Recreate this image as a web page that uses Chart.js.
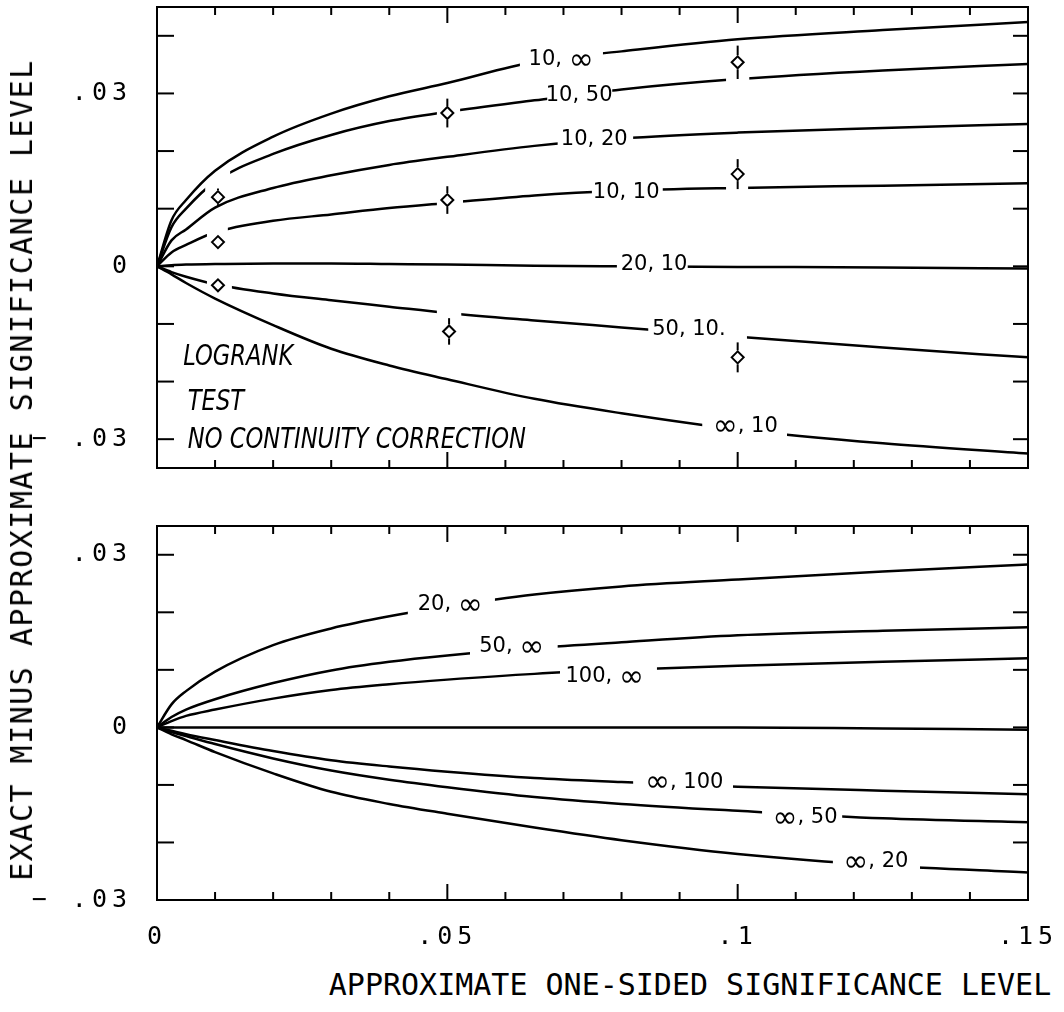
<!DOCTYPE html>
<html>
<head>
<meta charset="utf-8">
<script src="https://cdn.jsdelivr.net/npm/chart.js@4.4.0/dist/chart.umd.min.js"></script>
<style>
  html, body { margin: 0; padding: 0; background: #fff; }
  #wrap { position: relative; width: 1064px; height: 1012px; overflow: hidden; background: #fff; }
  canvas { position: absolute; left: 0; }
  #topChart { top: 0; }
  #bottomChart { top: 480px; }
  .title { position: absolute; font-family: "DejaVu Sans Mono", monospace; font-size: 30px;
           line-height: 1; color: #000; white-space: nowrap; }
  #ytitle { left: 22px; top: 470px; letter-spacing: 1.5px; transform: translate(-50%, -50%) rotate(-90deg); }
  #xtitle { left: 690px; top: 985px; transform: translate(-50%, -50%); }
</style>
</head>
<body>
<div id="wrap">
  <canvas id="topChart" width="1064" height="480"></canvas>
  <canvas id="bottomChart" width="1064" height="480"></canvas>
  <div class="title" id="ytitle">EXACT MINUS APPROXIMATE SIGNIFICANCE LEVEL</div>
  <div class="title" id="xtitle">APPROXIMATE ONE-SIDED SIGNIFICANCE LEVEL</div>
</div>
<script>
// approximate one-sided significance level (shared x grid)
const xs = [0, 0.0025, 0.005, 0.01, 0.02, 0.03, 0.04, 0.05, 0.065, 0.08, 0.1, 0.125, 0.15];

// upper panel: logrank, no continuity correction (n1, n2)
const up10Inf = [0, 0.0080, 0.0115, 0.0166, 0.0225, 0.0265, 0.0295, 0.0318, 0.0355, 0.0373, 0.0394, 0.0410, 0.0424];
const up10_50 = [0, 0.0068, 0.0100, 0.0147, 0.0195, 0.0228, 0.0252, 0.0268, 0.0288, 0.0307, 0.0325, 0.0340, 0.0351];
const up10_20 = [0, 0.0045, 0.0064, 0.0102, 0.0136, 0.0158, 0.0176, 0.0190, 0.0209, 0.0222, 0.0232, 0.0240, 0.0247];
const up10_10 = [0, 0.0024, 0.0037, 0.0059, 0.0079, 0.0090, 0.0101, 0.0110, 0.0123, 0.0131, 0.0136, 0.0140, 0.0144];
const up20_10 = [0, 0.0002, 0.0003, 0.0004, 0.0005, 0.0005, 0.0004, 0.0003, 0.0001, 0.0000, -0.0001, -0.0002, -0.0004];
const up50_10 = [0, -0.0010, -0.0018, -0.0031, -0.0047, -0.0059, -0.0070, -0.0081, -0.0094, -0.0106, -0.0122, -0.0141, -0.0158];
const upInf10 = [0, -0.0014, -0.0029, -0.0056, -0.0102, -0.0143, -0.0172, -0.0196, -0.0230, -0.0255, -0.0283, -0.0307, -0.0325];

// upper panel: exact values with bars
const markX = [0.0105, 0.0105, 0.0105, 0.05, 0.05, 0.0503, 0.1, 0.1, 0.1];
const markY = [0.0120, 0.0042, -0.0033, 0.0266, 0.0115, -0.0113, 0.0354, 0.0160, -0.0158];
const markErr = [0.0015, 0.0011, 0.0010, 0.0025, 0.0024, 0.0023, 0.0029, 0.0026, 0.0026];

// lower panel
const lo20Inf = [0, 0.0040, 0.0063, 0.0097, 0.0143, 0.0172, 0.0193, 0.0210, 0.0231, 0.0245, 0.0257, 0.0271, 0.0283];
const lo50Inf = [0, 0.0018, 0.0031, 0.0049, 0.0077, 0.0099, 0.0114, 0.0125, 0.0138, 0.0148, 0.0160, 0.0168, 0.0174];
const lo100Inf = [0, 0.0011, 0.0020, 0.0031, 0.0050, 0.0065, 0.0075, 0.0083, 0.0093, 0.0100, 0.0107, 0.0114, 0.0120];
const loInfInf = [0, 0, 0, 0, 0, 0, 0, 0, 0, 0, 0, -0.0002, -0.0004];
const loInf100 = [0, -0.0006, -0.0012, -0.0022, -0.0041, -0.0057, -0.0068, -0.0077, -0.0088, -0.0095, -0.0103, -0.0110, -0.0116];
const loInf50 = [0, -0.0008, -0.0015, -0.0029, -0.0054, -0.0075, -0.0091, -0.0104, -0.0121, -0.0133, -0.0145, -0.0158, -0.0165];
const loInf20 = [0, -0.0012, -0.0022, -0.0043, -0.0080, -0.0112, -0.0133, -0.0150, -0.0174, -0.0196, -0.0220, -0.0240, -0.0252];

// axis ticks
const xTicks = [0, 0.01, 0.02, 0.03, 0.04, 0.05, 0.06, 0.07, 0.08, 0.09, 0.1, 0.11, 0.12, 0.13, 0.14, 0.15];
const xTickText = { 0: '0', 5: '.05', 10: '.1', 15: '.15' };
const upYTicks = [-0.03, -0.02, -0.01, 0, 0.01, 0.02, 0.03, 0.04];
const loYTicks = [-0.03, -0.02, -0.01, 0, 0.01, 0.02, 0.03];
const yTickText = { '-3': '\u2212 .03', '0': '0', '3': '.03' };

// curve labels
const upLabels = ['10, ∞', '10, 50', '10, 20', '10, 10', '20, 10', '50, 10.', '∞, 10'];
const upLabelX = [0.0696, 0.0727, 0.0753, 0.0808, 0.0856, 0.0916, 0.1013];
const upLabelY = [0.0358, 0.0297, 0.0220, 0.0128, 0.0003, -0.0109, -0.0278];
const loLabels = ['20, ∞', '50, ∞', '100, ∞', '', '∞, 100', '∞, 50', '∞, 20'];
const loLabelX = [0.0505, 0.0611, 0.0771, 0, 0.0908, 0.1116, 0.1238];
const loLabelY = [0.0213, 0.0140, 0.0088, 0, -0.0096, -0.0157, -0.0234];

// where the pen was lifted (labels and exact-value marks)
const upGaps = [
  [[0.0625, 0.0768]],
  [[0.0083, 0.0126], [0.0482, 0.0522], [0.0672, 0.0784], [0.098, 0.102]],
  [[0.069, 0.082]],
  [[0.0086, 0.0122], [0.0482, 0.0527], [0.0749, 0.0871], [0.098, 0.1018]],
  [[0.0792, 0.0914]],
  [[0.0086, 0.0129], [0.0482, 0.0524], [0.0846, 0.1016]],
  [[0.0939, 0.1085]]
];
const loGaps = [
  [[0.0432, 0.0582]],
  [[0.0539, 0.069]],
  [[0.0694, 0.0861]],
  [],
  [[0.082, 0.0992]],
  [[0.1042, 0.118]],
  [[0.1164, 0.1314]]
];

const noteLines = ['LOGRANK', 'TEST', 'NO CONTINUITY CORRECTION'];
const noteX = [0.0045, 0.0053, 0.0053];
const noteY = [-0.0172, -0.0250, -0.0316];

const TICK_FONT = { family: 'DejaVu Sans Mono', size: 25 };
const LABEL_FONT = '21px "DejaVu Sans"';
const INF_FONT = '30px "DejaVu Sans"';

function curve(ys) {
  return {
    data: xs.map((x, i) => ({ x: x, y: ys[i] })),
    borderColor: '#000',
    borderWidth: 2.5,
    pointRadius: 0,
    cubicInterpolationMode: 'monotone',
    fill: false
  };
}

function drawLabel(ctx, text, px, py) {
  const parts = [...text].map(ch => ({ ch: ch, font: ch === '∞' ? INF_FONT : LABEL_FONT }));
  let w = 0;
  parts.forEach(p => { ctx.font = p.font; p.w = ctx.measureText(p.ch).width; w += p.w; });
  let x = px - w / 2;
  ctx.textAlign = 'left';
  ctx.textBaseline = 'middle';
  parts.forEach(p => {
    ctx.font = p.font;
    ctx.fillText(p.ch, x, p.ch === '∞' ? py + 1 : py);
    x += p.w;
  });
}

function makePlotter(cfg) {
  return {
    id: 'plotter',
    beforeDraw(chart) {
      chart.ctx.letterSpacing = '5px';
    },
    beforeDatasetDraw(chart, args) {
      const g = cfg.gaps[args.index];
      if (!g || !g.length) return;
      const ctx = chart.ctx, sx = chart.scales.x;
      ctx.save();
      ctx.beginPath();
      ctx.rect(0, 0, chart.width, chart.height);
      g.forEach(([a, b]) => {
        const p0 = sx.getPixelForValue(a), p1 = sx.getPixelForValue(b);
        ctx.rect(p0, 0, p1 - p0, chart.height);
      });
      ctx.clip('evenodd');
    },
    afterDatasetDraw(chart, args) {
      const g = cfg.gaps[args.index];
      if (!g || !g.length) return;
      chart.ctx.restore();
    },
    afterDraw(chart) {
      const ctx = chart.ctx, sx = chart.scales.x, sy = chart.scales.y, a = chart.chartArea;
      ctx.save();
      ctx.letterSpacing = '0px';
      ctx.strokeStyle = '#000';
      ctx.fillStyle = '#000';
      ctx.lineWidth = 2;
      const seg = (x0, y0, x1, y1) => { ctx.beginPath(); ctx.moveTo(x0, y0); ctx.lineTo(x1, y1); ctx.stroke(); };

      // frame and inward ticks
      ctx.strokeRect(a.left, a.top, a.right - a.left, a.bottom - a.top);
      sx.ticks.forEach(t => {
        const k = Math.round(t.value * 100);
        if (k <= 0 || k >= 15) return;
        const px = sx.getPixelForValue(t.value);
        const len = k % 5 === 0 ? 16 : 8;
        seg(px, a.top, px, a.top + len);
        seg(px, a.bottom, px, a.bottom - len);
      });
      sy.ticks.forEach(t => {
        const py = sy.getPixelForValue(t.value);
        if (py <= a.top + 1 || py >= a.bottom - 1) return;
        seg(a.left, py, a.left + 17, py);
        seg(a.right, py, a.right - 15, py);
      });

      // curve labels
      cfg.labels.forEach((txt, i) => {
        if (!txt) return;
        drawLabel(ctx, txt, sx.getPixelForValue(cfg.labelX[i]), sy.getPixelForValue(cfg.labelY[i]));
      });

      // bars on the exact-value marks
      if (cfg.marks) {
        cfg.marks.x.forEach((mx, i) => {
          const px = sx.getPixelForValue(mx);
          const py = sy.getPixelForValue(cfg.marks.y[i]);
          const hi = sy.getPixelForValue(cfg.marks.y[i] + cfg.marks.err[i]);
          const lo = sy.getPixelForValue(cfg.marks.y[i] - cfg.marks.err[i]);
          if (py - 7 > hi) seg(px, hi, px, py - 7);
          if (py + 7 < lo) seg(px, py + 7, px, lo);
        });
      }

      // note text
      if (cfg.notes) {
        ctx.font = 'italic 29px "DejaVu Sans"';
        ctx.textAlign = 'left';
        ctx.textBaseline = 'alphabetic';
        cfg.notes.text.forEach((t, i) => {
          ctx.save();
          ctx.translate(sx.getPixelForValue(cfg.notes.x[i]), sy.getPixelForValue(cfg.notes.y[i]));
          ctx.scale(0.78, 1);
          ctx.fillText(t, 0, 0);
          ctx.restore();
        });
      }
      ctx.restore();
    }
  };
}

function makeOptions(yMin, yMax, yTicks, showXLabels, padTop, xHeight) {
  return {
    responsive: false,
    animation: false,
    events: [],
    layout: { autoPadding: false, padding: { top: padTop, right: 36, left: 0, bottom: 0 } },
    plugins: { legend: { display: false }, tooltip: { enabled: false } },
    scales: {
      x: {
        type: 'linear', min: 0, max: 0.15,
        grid: { display: false },
        border: { display: false },
        afterBuildTicks: s => { s.ticks = xTicks.map(v => ({ value: v })); },
        afterFit: s => { s.height = xHeight; s.paddingLeft = 0; s.paddingRight = 0; },
        ticks: {
          display: showXLabels,
          autoSkip: false, maxRotation: 0, minRotation: 0, padding: 14,
          color: '#000', font: TICK_FONT,
          callback: v => xTickText[Math.round(v * 100)] || ''
        }
      },
      y: {
        type: 'linear', min: yMin, max: yMax,
        grid: { display: false },
        border: { display: false },
        afterBuildTicks: s => { s.ticks = yTicks.map(v => ({ value: v })); },
        afterFit: s => { s.width = 157; s.paddingTop = 0; s.paddingBottom = 0; },
        ticks: {
          autoSkip: false, padding: 17,
          color: '#000', font: TICK_FONT,
          callback: v => yTickText[String(Math.round(v * 100))] || ''
        }
      }
    }
  };
}

const upSeries = [up10Inf, up10_50, up10_20, up10_10, up20_10, up50_10, upInf10];
const upDatasets = upSeries.map(curve);
upDatasets.push({
  data: markX.map((x, i) => ({ x: x, y: markY[i] })),
  showLine: false,
  pointStyle: 'rectRot',
  pointRadius: 6,
  borderColor: '#000',
  backgroundColor: '#fff',
  borderWidth: 2
});

new Chart(document.getElementById('topChart'), {
  type: 'line',
  data: { datasets: upDatasets },
  options: makeOptions(-0.035, 0.045, upYTicks, false, 7, 12),
  plugins: [makePlotter({
    gaps: upGaps, labels: upLabels, labelX: upLabelX, labelY: upLabelY,
    marks: { x: markX, y: markY, err: markErr },
    notes: { text: noteLines, x: noteX, y: noteY }
  })]
});

const loSeries = [lo20Inf, lo50Inf, lo100Inf, loInfInf, loInf100, loInf50, loInf20];
new Chart(document.getElementById('bottomChart'), {
  type: 'line',
  data: { datasets: loSeries.map(curve) },
  options: makeOptions(-0.03, 0.035, loYTicks, true, 46, 60),
  plugins: [makePlotter({
    gaps: loGaps, labels: loLabels, labelX: loLabelX, labelY: loLabelY
  })]
});
</script>
</body>
</html>
